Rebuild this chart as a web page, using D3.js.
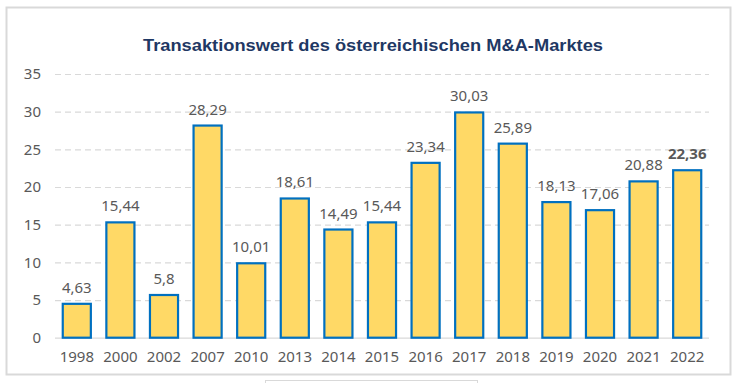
<!DOCTYPE html>
<html>
<head>
<meta charset="utf-8">
<script src="https://cdn.jsdelivr.net/npm/d3@7"></script>
<style>
  body { margin: 0; background: #fff; }
  svg { display: block; }
</style>
</head>
<body>
<svg id="canvas" width="741" height="383"></svg>
<script>
// Transaktionswert (Mrd. EUR) je Jahr
const years = ['1998','2000','2002','2007','2010','2013','2014','2015','2016','2017','2018','2019','2020','2021','2022']
const values = [4.63, 15.44, 5.8, 28.29, 10.01, 18.61, 14.49, 15.44, 23.34, 30.03, 25.89, 18.13, 17.06, 20.88, 22.36]
const valueLabels = ['4,63','15,44','5,8','28,29','10,01','18,61','14,49','15,44','23,34','30,03','25,89','18,13','17,06','20,88','22,36']
const yTicks = [0, 5, 10, 15, 20, 25, 30, 35]
const title = 'Transaktionswert des österreichischen M&A-Marktes'

let canvas = d3.select('#canvas')

function drawChart() {
    let x = d3.scaleBand()
        .domain(years)
        .range([55, 709])
        .paddingInner(0.31)
        .paddingOuter(0.155)

    let y = d3.scaleLinear()
        .domain([0, 35])
        .range([337.7, 74])

    // outer frame
    canvas.append('rect')
        .attr('x', 6.5).attr('y', 7.5)
        .attr('width', 724).attr('height', 367)
        .attr('fill', 'none')
        .attr('stroke', '#d9d9d9')
        .attr('stroke-width', 2)

    // cut-off box below
    canvas.append('rect')
        .attr('x', 265.5).attr('y', 380.5)
        .attr('width', 212).attr('height', 20)
        .attr('fill', 'none')
        .attr('stroke', '#d9d9d9')

    canvas.append('text')
        .attr('x', 373).attr('y', 51)
        .attr('text-anchor', 'middle')
        .attr('font-family', 'Liberation Sans, Arial, sans-serif')
        .attr('font-weight', 'bold')
        .attr('font-size', 16)
        .attr('fill', '#1F3864')
        .attr('textLength', 460)
        .attr('lengthAdjust', 'spacingAndGlyphs')
        .text(title)

    // gridlines
    let yAxis = d3.axisLeft(y)
        .tickValues(yTicks)
        .tickSize(-654)
        .tickPadding(14)
    let g = canvas.append('g')
        .attr('transform', 'translate(55,0)')
        .call(yAxis)
    g.select('.domain').remove()
    g.selectAll('.tick line')
        .attr('stroke', '#d9d9d9')
        .attr('stroke-width', 1.2)
        .attr('stroke-dasharray', d => d === 0 ? null : '6,4')
    g.selectAll('.tick text')
        .attr('font-family', 'Noto Sans, sans-serif')
        .attr('font-size', 15)
        .attr('fill', '#595959')

    let xAxis = d3.axisBottom(x).tickSize(0).tickPadding(14)
    let gx = canvas.append('g')
        .attr('transform', 'translate(0,337.7)')
        .call(xAxis)
    gx.select('.domain').remove()
    gx.selectAll('.tick text')
        .attr('font-family', 'Noto Sans, sans-serif')
        .attr('font-size', 15)
        .attr('fill', '#595959')

    canvas.selectAll('rect.bar')
        .data(values)
        .enter()
        .append('rect')
        .attr('class', 'bar')
        .attr('x', (d, i) => x(years[i]) + 1)
        .attr('y', d => y(d) + 1)
        .attr('width', x.bandwidth() - 2)
        .attr('height', d => y(0) - y(d) - 1)
        .attr('fill', '#FFD966')
        .attr('stroke', '#0070C0')
        .attr('stroke-width', 2.2)

    canvas.selectAll('text.lbl')
        .data(values)
        .enter()
        .append('text')
        .attr('class', 'lbl')
        .attr('x', (d, i) => x(years[i]) + x.bandwidth() / 2)
        .attr('y', d => y(d) - 10)
        .attr('text-anchor', 'middle')
        .attr('font-family', 'Noto Sans, sans-serif')
        .attr('font-size', 15)
        .attr('font-weight', (d, i) => i === values.length - 1 ? 'bold' : 'normal')
        .attr('fill', '#595959')
        .text((d, i) => valueLabels[i])
}

drawChart()
</script>
</body>
</html>
